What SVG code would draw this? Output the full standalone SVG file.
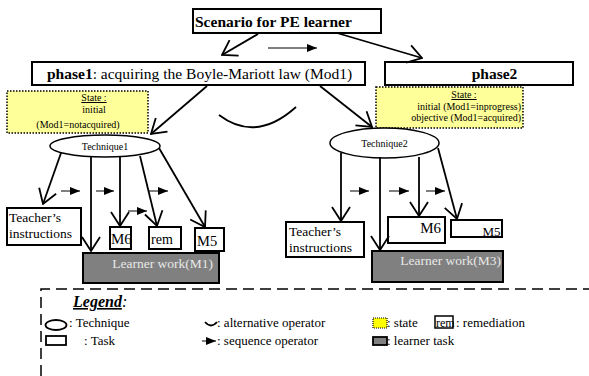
<svg xmlns="http://www.w3.org/2000/svg" width="589" height="376" viewBox="0 0 589 376">
<defs>
<style>
text{font-family:"Liberation Serif","Times New Roman",serif;fill:#000}
.box{fill:#fff;stroke:#000;stroke-width:2}
.state{fill:#ffff99;stroke:#000;stroke-width:1.5;stroke-dasharray:1.5 1.5}
.lw{fill:#808080;stroke:#000;stroke-width:2}
.lwt{fill:#e8e8e8;font-size:13.5px}
.arr{fill:none;stroke:#000;stroke-width:1.8;marker-end:url(#open)}
.seq{fill:none;stroke:#000;stroke-width:1;marker-end:url(#tri)}
.st{font-size:10px}
.tk{font-size:13.5px}
.lg{font-size:13px}
</style>
<marker id="open" viewBox="0 0 16 20" refX="15" refY="10" markerWidth="16" markerHeight="20" markerUnits="userSpaceOnUse" orient="auto">
<path d="M1,1 L15,10 L1,19" fill="none" stroke="#000" stroke-width="1.8"/>
</marker>
<marker id="tri" viewBox="0 0 10 8" refX="10" refY="4" markerWidth="10" markerHeight="8" markerUnits="userSpaceOnUse" orient="auto">
<path d="M0,0 L10,4 L0,8 z" fill="#000"/>
</marker>
</defs>
<rect width="589" height="376" fill="#fff"/>

<g id="scenario">
<rect class="box" x="193" y="9" width="188" height="24"/>
<text x="195" y="27" font-size="15.5" font-weight="bold">Scenario for PE learner</text>
</g>

<g id="phase1">
<rect class="box" x="32" y="62" width="333" height="23"/>
<text x="47" y="79" font-size="15.5"><tspan font-weight="bold">phase1</tspan>: acquiring the Boyle-Mariott law (Mod1)</text>
</g>

<g id="phase2">
<rect class="box" x="385" y="62" width="188" height="23"/>
<text x="494.5" y="79" font-size="15.5" font-weight="bold" text-anchor="middle">phase2</text>
</g>

<g id="state1">
<rect class="state" x="7" y="91" width="141" height="42"/>
<text class="st" x="94" y="101" text-anchor="middle" text-decoration="underline">State :</text>
<text class="st" x="94" y="113" text-anchor="middle">initial</text>
<text class="st" x="78" y="128" text-anchor="middle">(Mod1=notacquired)</text>
</g>

<g id="state2">
<rect class="state" x="376" y="87" width="147" height="41"/>
<text class="st" x="464" y="98" text-anchor="middle" text-decoration="underline">State :</text>
<text class="st" x="521" y="110" text-anchor="end">initial (Mod1=inprogress)</text>
<text class="st" x="521" y="121" text-anchor="end">objective (Mod1=acquired)</text>
</g>

<g id="alternative">
<path d="M219,115 Q256,143 296,107" fill="none" stroke="#000" stroke-width="1.8"/>
</g>

<g id="technique1">
<ellipse cx="105" cy="146" rx="55" ry="11" fill="#fff" stroke="#000" stroke-width="1.5"/>
<text x="105" y="149.5" font-size="10" text-anchor="middle">Technique1</text>
</g>

<g id="technique2">
<ellipse cx="384.5" cy="143" rx="54.5" ry="15" fill="#fff" stroke="#000" stroke-width="1.5"/>
<text x="384.5" y="146.5" font-size="10" text-anchor="middle">Technique2</text>
</g>

<g id="teacher1">
<rect class="box" x="7" y="208" width="74" height="37"/>
<text class="tk" x="9" y="222">Teacher’s</text>
<text class="tk" x="9" y="238">instructions</text>
</g>
<g id="m6a">
<rect class="box" x="110" y="227" width="21" height="22"/>
<text x="111" y="244" font-size="15">M6</text>
</g>
<g id="rem1">
<rect class="box" x="149" y="227" width="32" height="22"/>
<text x="151" y="244" font-size="14">rem</text>
</g>
<g id="m5a">
<rect class="box" x="195" y="228" width="29" height="23"/>
<text x="197" y="246" font-size="14.5">M5</text>
</g>
<g id="learner1">
<rect class="lw" x="83" y="253" width="136" height="30"/>
<text class="lwt" x="213" y="268" text-anchor="end">Learner work(M1)</text>
</g>

<g id="teacher2">
<rect class="box" x="286" y="222" width="78" height="35"/>
<text class="tk" x="289" y="236">Teacher’s</text>
<text class="tk" x="289" y="252">instructions</text>
</g>
<g id="m6b">
<rect class="box" x="388" y="217" width="57" height="26"/>
<text x="441" y="233" font-size="15" text-anchor="end">M6</text>
</g>
<g id="m5b">
<rect class="box" x="451" y="220" width="51" height="17"/>
<text x="500.5" y="235.5" font-size="13" text-anchor="end">M5</text>
</g>
<g id="learner2">
<rect class="lw" x="372" y="251" width="131" height="31"/>
<text class="lwt" x="501" y="265" text-anchor="end">Learner work(M3)</text>
</g>

<g id="connectors">
<line class="arr" x1="258" y1="34" x2="222" y2="55"/>
<line class="arr" x1="337" y1="33" x2="422" y2="58"/>
<line class="seq" x1="268" y1="48" x2="317" y2="48"/>
<line class="arr" x1="207" y1="86" x2="151" y2="134"/>
<line class="arr" x1="320" y1="86" x2="372" y2="127"/>

<line class="arr" x1="61" y1="153" x2="43" y2="204"/>
<line class="arr" x1="91" y1="157" x2="91" y2="251"/>
<line class="arr" x1="120" y1="157" x2="120" y2="226"/>
<line class="arr" x1="140" y1="156" x2="157" y2="226"/>
<line class="arr" x1="159" y1="148" x2="205" y2="227"/>
<line class="seq" x1="61" y1="191" x2="80" y2="191"/>
<line class="seq" x1="96" y1="191" x2="114" y2="191"/>
<line class="seq" x1="149" y1="191" x2="168" y2="191"/>
<line class="seq" x1="128" y1="211" x2="147" y2="211"/>

<line class="arr" x1="341" y1="153" x2="341" y2="221"/>
<line class="arr" x1="380" y1="157" x2="380" y2="250"/>
<line class="arr" x1="419" y1="157" x2="419" y2="216"/>
<line class="arr" x1="438" y1="148" x2="457" y2="219"/>
<line class="seq" x1="350" y1="191" x2="369" y2="191"/>
<line class="seq" x1="389" y1="191" x2="409" y2="191"/>
<line class="seq" x1="426" y1="191" x2="445" y2="191"/>
</g>

<g id="legend">
<path d="M41,376 L41,289 L589,289" fill="none" stroke="#000" stroke-width="1.5" stroke-dasharray="11 6"/>
<text x="73" y="307" font-size="16" font-style="italic"><tspan font-weight="bold" text-decoration="underline">Legend</tspan>:</text>
<ellipse cx="56" cy="325" rx="10.5" ry="5" fill="#fff" stroke="#000" stroke-width="1.8"/>
<text class="lg" x="69" y="327">: Technique</text>
<rect x="46" y="336" width="20" height="9" fill="#fff" stroke="#000" stroke-width="1.8"/>
<text class="lg" x="84" y="345">: Task</text>
<path d="M205,322 Q211,329 217,322" fill="none" stroke="#000" stroke-width="1.8"/>
<text class="lg" x="217" y="327">: alternative operator</text>
<line class="seq" x1="202" y1="341" x2="216" y2="341"/>
<text class="lg" x="217" y="345">:  sequence operator</text>
<rect x="373" y="318" width="14" height="10" fill="#ffff00" stroke="#000" stroke-width="1.2" stroke-dasharray="1 1"/>
<text class="lg" x="387" y="327">: state</text>
<rect x="373" y="337" width="14" height="8" fill="#808080" stroke="#000" stroke-width="1.8"/>
<text class="lg" x="387" y="345">: learner task</text>
<rect x="435" y="316" width="18" height="12" fill="#fff" stroke="#000" stroke-width="1.5"/>
<text x="436" y="327" font-size="12">rem</text>
<text class="lg" x="456" y="327">: remediation</text>
</g>
</svg>
